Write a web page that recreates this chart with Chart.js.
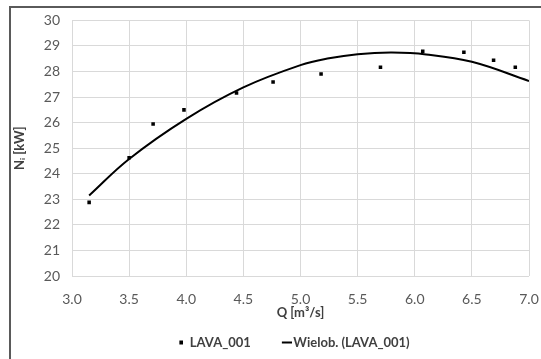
<!DOCTYPE html>
<html>
<head>
<meta charset="utf-8">
<script src="https://cdn.jsdelivr.net/npm/chart.js@4"></script>
<style>
  html, body { margin: 0; padding: 0; background: #fff; }
  #wrap { position: relative; width: 541px; height: 359px; overflow: hidden; }
  #frame { position: absolute; left: 9px; top: 6px; width: 600px; height: 400px;
           border-left: 2px solid #5a5a5a; border-top: 2px solid #5a5a5a; }
  canvas { position: absolute; left: 0; top: 0; }
</style>
</head>
<body>
<div id="wrap">
  <div id="frame"></div>
  <canvas id="wykres" width="541" height="359"></canvas>
</div>
<script>
// punkty pomiarowe LAVA_001
qPomiar = [3.15, 3.50, 3.71, 3.98, 4.44, 4.76, 5.18, 5.70, 6.07, 6.43, 6.69, 6.88];
nPomiar = [22.88, 24.63, 25.95, 26.50, 27.16, 27.59, 27.90, 28.17, 28.79, 28.75, 28.44, 28.17];

// linia trendu (wielomianowa)
qTrend = [3.15, 3.5, 4.0, 4.5, 5.0, 5.25, 5.5, 5.8, 6.1, 6.5, 7.0];
nTrend = [23.15, 24.58, 26.15, 27.38, 28.25, 28.52, 28.68, 28.74, 28.67, 28.38, 27.63];

nazwaSerii = "LAVA_001";
nazwaTrendu = "Wielob. (LAVA_001)";

punkty = [];
for (i = 0; i < qPomiar.length; i++) {
    punkty.push({x: qPomiar[i], y: nPomiar[i]});
}
trend = [];
for (i = 0; i < qTrend.length; i++) {
    trend.push({x: qTrend[i], y: nTrend[i]});
}

czcionka = "Lato, 'Liberation Sans', sans-serif";

// znaczniki legendy: kwadracik i kreska (jak w Excelu)
function znacznik(szer, x0, x1, wys) {
    c = document.createElement('canvas');
    c.width = szer; c.height = 6;
    g = c.getContext('2d');
    g.fillStyle = '#000';
    g.fillRect(x0, 3 - wys / 2, x1 - x0, wys);
    return c;
}
znakPunkt = znacznik(24, 20, 24, 4);
znakLinia = znacznik(34, 24, 34, 2);

przesunLegende = {
  id: 'przesunLegende',
  afterLayout: function(chart) {
    chart.legend.left += 14;
    chart.legend.right += 14;
  }
};

const ctx = document.getElementById('wykres');

new Chart(ctx, {
  type: 'scatter',
  data: {
    datasets: [
      {
        label: nazwaSerii,
        data: punkty,
        pointStyle: 'rect',
        pointRadius: 2.5,
        backgroundColor: '#000',
        borderColor: '#000',
        borderWidth: 0
      },
      {
        label: nazwaTrendu,
        type: 'line',
        data: trend,
        borderColor: '#000',
        backgroundColor: '#000',
        borderWidth: 2,
        pointRadius: 0,
        tension: 0.4,
        fill: false
      }
    ]
  },
  plugins: [przesunLegende],
  options: {
    responsive: false,
    animation: false,
    layout: { padding: { left: 12, right: 12, top: 20, bottom: 0 } },
    plugins: {
      tooltip: { enabled: false },
      legend: {
        position: 'bottom',
        labels: {
          usePointStyle: true,
          pointStyleWidth: 24,
          padding: 12,
          color: '#404040',
          font: { family: czcionka, size: 13, weight: 'bold' },
          generateLabels: function(chart) {
            items = Chart.defaults.plugins.legend.labels.generateLabels(chart);
            items[0].pointStyle = znakPunkt;
            items[1].pointStyle = znakLinia;
            return items;
          }
        }
      }
    },
    scales: {
      x: {
        type: 'linear',
        min: 3, max: 7,
        ticks: {
          stepSize: 0.5,
          color: '#595959',
          padding: 15,
          font: { family: czcionka, size: 14 },
          callback: function(v) { return v.toFixed(1); }
        },
        grid: { color: '#d9d9d9', drawTicks: false },
        border: { display: false },
        title: {
          display: true,
          text: 'Q [m³/s]',
          color: '#404040',
          padding: { top: 0, bottom: 3 },
          font: { family: czcionka, size: 13, weight: 'bold' }
        },
        afterFit: function(a) {
          a.height = 48;
          a.paddingLeft = 0;
          a.paddingRight = 0;
        }
      },
      y: {
        min: 20, max: 30,
        ticks: {
          stepSize: 1,
          color: '#595959',
          padding: 12,
          font: { family: czcionka, size: 14 }
        },
        grid: { color: '#d9d9d9', drawTicks: false },
        border: { display: false },
        title: {
          display: true,
          text: 'Nᵢ [kW]',
          color: '#404040',
          padding: { top: 0, bottom: 0 },
          font: { family: czcionka, size: 13, weight: 'bold' }
        },
        afterFit: function(a) { a.width = 60; }
      }
    }
  }
});
</script>
</body>
</html>
